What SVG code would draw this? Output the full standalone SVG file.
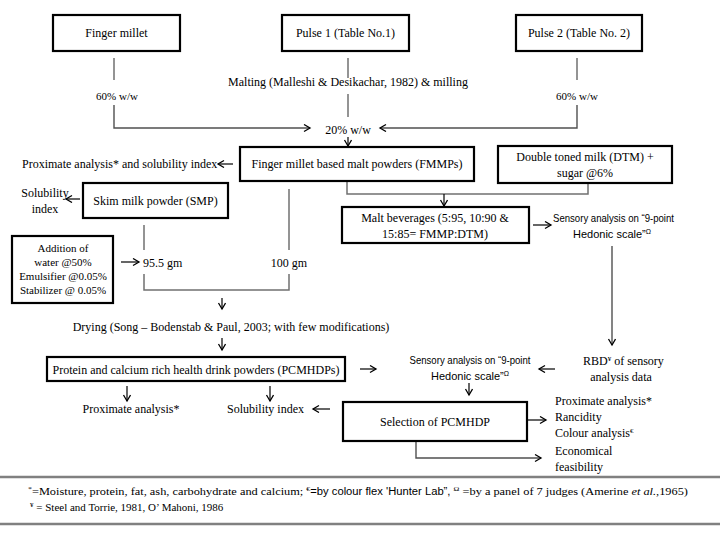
<svg xmlns="http://www.w3.org/2000/svg" width="720" height="540" viewBox="0 0 720 540">
<defs>
<marker id="ah" markerUnits="userSpaceOnUse" markerWidth="10" markerHeight="10" refX="7" refY="4" orient="auto">
<path d="M1,0.5 L7,4 L1,7.5" fill="none" stroke="#000" stroke-width="1.3"/>
</marker>
<style>
.box{fill:#fff;stroke:#000;stroke-width:2.2}
.t{font-family:"Liberation Serif","Times New Roman",serif;font-size:12px;fill:#000}
.s{font-family:"Liberation Sans",Arial,sans-serif;font-size:11px;fill:#000}
.m{text-anchor:middle}
.c{fill:none;stroke:#707070;stroke-width:1.5}
.a{fill:none;stroke:#000;stroke-width:1.2;marker-end:url(#ah)}
.ga{fill:none;stroke:#505050;stroke-width:1.4;marker-end:url(#ah)}
.sup{font-size:7px}
.rule{stroke:#808080;stroke-width:2.5}
</style>
</defs>
<rect width="720" height="540" fill="#fff"/>

<g id="connectors">
<line class="c" x1="114" y1="58" x2="114" y2="80"/>
<polyline class="ga" points="114,105 114,128 310,128"/>
<line class="c" x1="348" y1="58" x2="348" y2="78"/>
<line class="c" x1="348" y1="94" x2="348" y2="117"/>
<line class="c" x1="577" y1="58" x2="577" y2="80"/>
<polyline class="ga" points="577,105 577,128 380,128"/>
<line class="a" x1="348" y1="137" x2="348" y2="146"/>
<line class="a" x1="233" y1="164" x2="218" y2="164"/>
<polyline class="c" points="347,181 347,194 588,194 588,183"/>
<line class="a" x1="444" y1="194" x2="444" y2="206"/>
<line class="a" x1="533" y1="225" x2="551" y2="225"/>
<line class="ga" x1="612" y1="246" x2="612" y2="345"/>
<line class="a" x1="80" y1="199" x2="66" y2="199"/>
<line class="c" x1="289" y1="189" x2="289" y2="250"/>
<line class="c" x1="144" y1="225" x2="144" y2="250"/>
<polyline class="c" points="144,274 144,290 289,290 289,274"/>
<line class="a" x1="121" y1="262" x2="139" y2="262"/>
<line class="a" x1="222" y1="298" x2="222" y2="309"/>
<line class="a" x1="222" y1="338" x2="222" y2="350"/>
<line class="a" x1="360" y1="369" x2="376" y2="369"/>
<line class="a" x1="555" y1="369" x2="539" y2="369"/>
<line class="a" x1="127" y1="386" x2="127" y2="401"/>
<line class="a" x1="270" y1="386" x2="270" y2="401"/>
<line class="a" x1="330" y1="409" x2="313" y2="409"/>
<line class="a" x1="469" y1="383" x2="469" y2="395"/>
<line class="a" x1="527" y1="420" x2="546" y2="420"/>
<polyline class="ga" points="416,441 416,458 541,458"/>
</g>

<g id="finger-millet"><rect class="box" x="53" y="15" width="127" height="36"/><text class="t m" x="116.5" y="37">Finger millet</text></g>
<g id="pulse1"><rect class="box" x="282" y="15" width="127" height="36"/><text class="t m" x="345.5" y="37">Pulse 1 (Table No.1)</text></g>
<g id="pulse2"><rect class="box" x="516" y="15" width="126" height="36"/><text class="t m" x="579" y="37">Pulse 2 (Table No. 2)</text></g>

<g id="labels-top">
<text class="t m" x="117" y="100" style="font-size:11px">60% w/w</text>
<text class="t m" x="348" y="86">Malting (Malleshi &amp; Desikachar, 1982) &amp; milling</text>
<text class="t m" x="577" y="100" style="font-size:11px">60% w/w</text>
<text class="t m" x="348" y="134">20% w/w</text>
</g>

<g id="fmmp"><rect class="box" x="240" y="147" width="234" height="34"/><text class="t m" x="357" y="168">Finger millet based malt powders (FMMPs)</text></g>
<g id="proximate1"><text class="t" x="22" y="168">Proximate analysis* and solubility index</text></g>
<g id="dtm"><rect class="box" x="498" y="146" width="174" height="37"/><text class="t m" x="585" y="161">Double toned milk (DTM) +</text><text class="t m" x="585" y="177">sugar @6%</text></g>
<g id="malt"><rect class="box" x="342" y="207" width="187" height="36"/><text class="t m" x="435" y="222">Malt beverages (5:95, 10:90 &amp;</text><text class="t m" x="435" y="238">15:85= FMMP:DTM)</text></g>
<g id="sensory1"><text class="s" x="553" y="222" textLength="121" lengthAdjust="spacingAndGlyphs">Sensory analysis on “9-point</text><text class="s m" x="612" y="238">Hedonic scale”<tspan class="sup" dy="-4">Ω</tspan></text></g>
<g id="smp"><rect class="box" x="83" y="183" width="145" height="35"/><text class="t m" x="155.5" y="205">Skim milk powder (SMP)</text></g>
<g id="solubility1"><text class="t m" x="45" y="197">Solubility</text><text class="t m" x="45" y="213">index</text></g>
<g id="additives"><rect class="box" x="12" y="236" width="101" height="67"/>
<text class="t m" x="63" y="252" style="font-size:11px">Addition of</text>
<text class="t m" x="63" y="266" style="font-size:11px">water @50%</text>
<text class="t m" x="63" y="280" style="font-size:11px">Emulsifier @0.05%</text>
<text class="t m" x="63" y="294" style="font-size:11px">Stabilizer @ 0.05%</text></g>
<g id="qty"><text class="t" x="143" y="267">95.5 gm</text><text class="t m" x="289" y="267">100 gm</text></g>
<g id="drying"><text class="t m" x="231" y="331">Drying (Song – Bodenstab &amp; Paul, 2003; with few modifications)</text></g>
<g id="pcmhdp"><rect class="box" x="47" y="357" width="298" height="24"/><text class="t m" x="196" y="374">Protein and calcium rich health drink powders (PCMHDPs)</text></g>
<g id="sensory2"><text class="s m" x="470" y="364" textLength="121" lengthAdjust="spacingAndGlyphs">Sensory analysis on “9-point</text><text class="s m" x="470" y="380">Hedonic scale”<tspan class="sup" dy="-4">Ω</tspan></text></g>
<g id="rbd"><text class="t" x="583" y="365">RBD<tspan class="sup" dy="-4">¥</tspan><tspan dy="4"> of sensory</tspan></text><text class="t m" x="621" y="381">analysis  data</text></g>
<g id="proximate2"><text class="t m" x="131" y="413">Proximate analysis*</text></g>
<g id="solubility2"><text class="t" x="227" y="413">Solubility index</text></g>
<g id="selection"><rect class="box" x="343" y="402" width="184" height="39"/><text class="t m" x="435" y="426">Selection of PCMHDP</text></g>
<g id="analyses"><text class="t" x="555" y="405">Proximate analysis*</text><text class="t" x="555" y="421">Rancidity</text><text class="t" x="555" y="437">Colour analysis<tspan class="sup" dy="-4">€</tspan></text></g>
<g id="economical"><text class="t" x="555" y="455">Economical</text><text class="t" x="555" y="471">feasibility</text></g>

<g id="footnotes">
<line class="rule" x1="0" y1="477" x2="720" y2="477"/>
<line class="rule" x1="0" y1="524" x2="720" y2="524"/>
<text class="t" x="28" y="495" style="font-size:11px" textLength="660" lengthAdjust="spacingAndGlyphs"><tspan class="sup" dy="-4">*</tspan><tspan dy="4">=Moisture, protein, fat, ash, carbohydrate and calcium; </tspan><tspan class="sup" dy="-4">€</tspan><tspan dy="4" style="font-family:'Liberation Sans',Arial,sans-serif;font-size:10px">=by colour flex 'Hunter Lab”,  </tspan><tspan class="sup" dy="-4">Ω</tspan><tspan dy="4"> =by a panel of 7 judges (Amerine </tspan><tspan font-style="italic">et al.</tspan><tspan>,1965)</tspan></text>
<text class="t" x="30" y="511" style="font-size:11px"><tspan class="sup" dy="-4">¥</tspan><tspan dy="4"> = Steel and Torrie, 1981, O’ Mahoni, 1986</tspan></text>
</g>
</svg>
